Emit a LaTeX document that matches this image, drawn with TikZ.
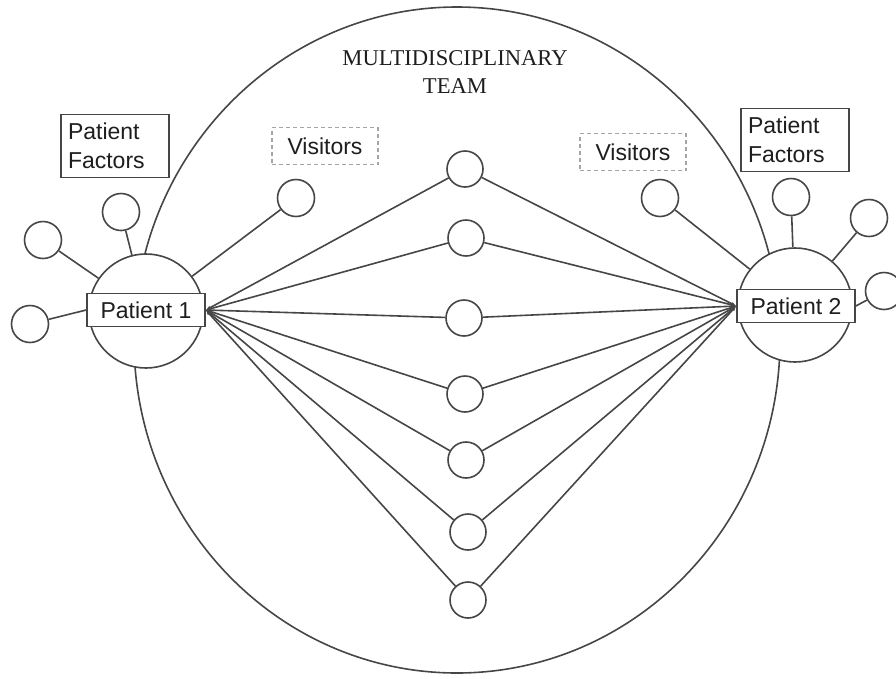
\documentclass[tikz,border=0pt]{standalone}
\usepackage{fontspec}
\setmainfont{Liberation Sans}
\newfontfamily\teamfont{Liberation Serif}
\usetikzlibrary{positioning,arrows.meta,shapes.geometric}
\definecolor{linegray}{RGB}{70,70,70}
\definecolor{dashgray}{RGB}{165,165,165}
\definecolor{textgray}{RGB}{30,30,30}

\begin{document}
\begin{tikzpicture}[x=1pt,y=-1pt,
    link/.style={linegray,line width=1.6pt},
    hub/.style={link,-{Latex[length=5pt,width=4pt]}},
    dot/.style={circle,draw=linegray,line width=1.6pt,fill=white,
                minimum size=36pt,inner sep=0pt},
    patcirc/.style={circle,draw=linegray,line width=1.6pt,fill=white,
                minimum size=114pt,inner sep=0pt},
    patbox/.style={draw=linegray,line width=1.6pt,fill=white,text=textgray,
                minimum width=118pt,minimum height=33pt,inner sep=0pt,
                font=\fontsize{23}{29}\selectfont},
    factbox/.style={draw=linegray,line width=1.6pt,fill=white,text=textgray,
                align=left,text width=94pt,inner xsep=7pt,inner ysep=4pt,
                minimum height=63pt,font=\fontsize{23}{29}\selectfont},
    visbox/.style={draw=dashgray,line width=1.2pt,dash pattern=on 4pt off 3pt,
                text=textgray,minimum width=106pt,minimum height=37pt,
                inner sep=0pt,font=\fontsize{23}{29}\selectfont}]
    \useasboundingbox (0,0) rectangle (896,678);
    % Team
    \node[draw=linegray,line width=1.6pt,ellipse,minimum width=646pt,
          minimum height=666pt,inner sep=0pt] (team) at (457,340) {};
    \node[font=\teamfont\fontsize{22.6}{28}\selectfont,align=center,text=textgray]
        (title) at (455,72) {MULTIDISCIPLINARY\\TEAM};
    % Patient 1
    \node[patcirc] (c1) at (146,311) {};
    \node[patbox] (p1) at (146,310) {Patient 1};
    \node[factbox] (pf1) at (115,146) {Patient\\Factors};
    \node[visbox] (vis1) at (325,146) {Visitors};
    \foreach \n/\x/\y in {f1/121/212,f2/43/240,f3/30/324,v1/296/198}{
        \node[dot,minimum size=37pt] (\n) at (\x,\y) {};
    }
    \draw[link] (f1) -- (c1);
    \draw[link] (f2) -- (c1);
    \draw[link] (f3) -- (p1.west);
    \draw[link] (v1) -- (c1);
    % Patient 2
    \node[patcirc] (c2) at (795,305) {};
    \node[patbox] (p2) at (796,306) {Patient 2};
    \node[factbox] (pf2) at (795,140) {Patient\\Factors};
    \node[visbox] (vis2) at (633,152) {Visitors};
    \foreach \n/\x/\y in {g1/791/197,g2/869/218,g3/884/291,v2/660/198}{
        \node[dot,minimum size=37pt] (\n) at (\x,\y) {};
    }
    \draw[link] (g1) -- (c2);
    \draw[link] (g2) -- (c2);
    \draw[link] (g3) -- (p2.east);
    \draw[link] (v2) -- (c2);
    % Team members
    \foreach \i/\x/\y in {1/465/169,2/466/238,3/464/318,4/465/394,
                          5/466/460,6/468/532,7/468/600}{
        \node[dot] (m\i) at (\x,\y) {};
        \draw[hub] (m\i) -- (p1.east);
        \draw[hub] (m\i) -- (p2.west);
    }
\end{tikzpicture}
\end{document}
